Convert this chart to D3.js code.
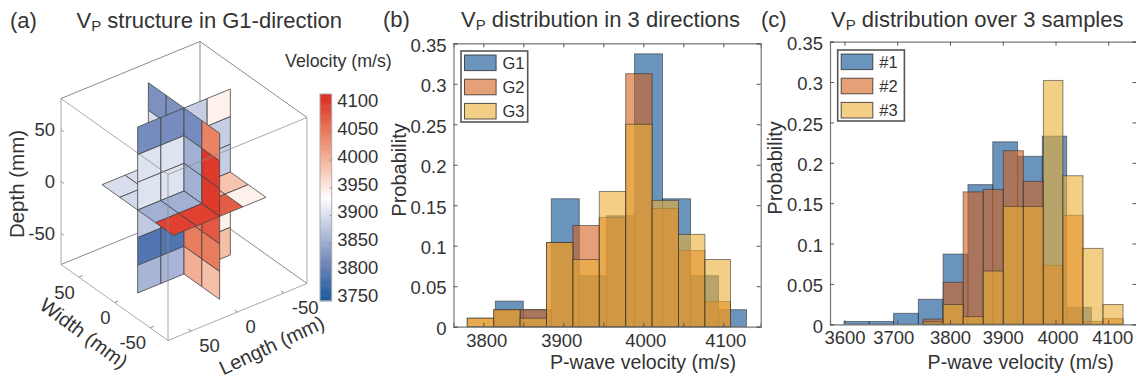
<!DOCTYPE html>
<html>

<head>
  <title>VP structure and distribution</title>
  <script src="https://cdn.jsdelivr.net/npm/d3@7/dist/d3.min.js"></script>
  <style>
    html, body { margin: 0; padding: 0; background: #fff; }
    svg text { font-family: "Liberation Sans", Arial, sans-serif; fill: #333; }
    svg { display: block; }
  </style>
</head>

<body>
  <svg id="chart" width="1136" height="379"></svg>

  <script>
    // panel (a): cell values of the three slices, m/s
    // rows run from top depth to bottom, columns from length +50 to -50
    var sliceWidth0 = [
      [3820, 3820, 3885, 3945],
      [3905, 3905, 3885, 3885],
      [3905, 3905, 3885, 3885],
      [3880, 3880, 3900, 3900],
      [3790, 3790, 3945, 3945],
      [3860, 3860, 3990, 3990]
    ];
    // rows run from top depth to bottom, columns from width +50 to -50
    var sliceLength0 = [
      [3825, 3825, 3820, 4045],
      [3900, 3900, 3855, 4105],
      [3900, 3900, 3855, 4105],
      [3900, 3900, 4060, 4080],
      [3900, 3900, 4050, 4050],
      [3900, 3900, 4005, 3990]
    ];
    // rows run from width +50 to -50, columns from length +50 to -50
    var sliceDepth0 = [
      [3900, 3900, 3900, 3900],
      [3895, 3895, 3895, 3895],
      [3855, 3855, 3990, 3985],
      [4100, 4100, 4075, 3945]
    ];
    var gridEdges = [50, 25, 0, -25, -50];
    var depthEdges = [80, 53.33, 26.67, 0, -26.67, -53.33, -80];
    var spaceTicks = [50, 0, -50];
    var colorbarTicks = [4100, 4050, 4000, 3950, 3900, 3850, 3800, 3750];

    // panel (b)
    var g1Edges = [3815, 3850, 3885, 3920, 3954, 3989, 4024, 4059, 4094, 4129];
    var g1Probs = [0.0316, 0.021, 0.158, 0.063, 0.137, 0.337, 0.158, 0.063, 0.021];
    var g2Edges = [3780, 3813, 3846, 3879, 3912, 3945, 3978, 4011, 4044, 4077, 4109];
    var g2Probs = [0.0105, 0.021, 0.021, 0.104, 0.125, 0.135, 0.3125, 0.146, 0.094, 0.031];
    var g3Probs = [0.0105, 0.021, 0.0105, 0.104, 0.083, 0.167, 0.25, 0.156, 0.114, 0.083];

    // panel (c)
    var s1Edges = [3599, 3647, 3693, 3740, 3787, 3834, 3881, 3928, 3975, 4021, 4068];
    var s1Probs = [0.0035, 0.0035, 0.0136, 0.031, 0.087, 0.173, 0.226, 0.208, 0.233, 0.021];
    var s2Edges = [3749, 3787, 3825, 3863, 3901, 3939, 3977, 4014, 4052, 4090, 4128];
    var s2Probs = [0.0065, 0.052, 0.164, 0.167, 0.215, 0.177, 0.073, 0.135, 0.0035, 0.007];
    var s3Probs = [0.003, 0.0245, 0.0095, 0.066, 0.146, 0.146, 0.302, 0.184, 0.094, 0.0245];

    var probTicks = [0, 0.05, 0.1, 0.15, 0.2, 0.25, 0.3, 0.35];
    var bTicks = [3800, 3850, 3900, 3950, 4000, 4050, 4100];
    var bLabels = [3800, 3900, 4000, 4100];
    var cTicks = [3600, 3700, 3800, 3900, 4000, 4100];

    var histColors = ['#074d8e', '#d4611e', '#ebaf34'];
    var svg = d3.select('#chart');
    var textColor = '#333';
    var tickFont = 18.5;

    function title(x, y, rest) {
      var t = svg.append('text').attr('x', x).attr('y', y).attr('font-size', 22);
      t.append('tspan').text('V');
      t.append('tspan').attr('dy', 3).attr('font-size', 15).text('P');
      t.append('tspan').attr('dy', -3).text(rest);
    }

    svg.append('text').attr('x', 10).attr('y', 28).attr('font-size', 22).text('(a)');
    svg.append('text').attr('x', 383).attr('y', 26.5).attr('font-size', 22).text('(b)');
    svg.append('text').attr('x', 761).attr('y', 26.5).attr('font-size', 22).text('(c)');
    title(76.5, 28, ' structure in G1-direction');
    title(461, 26.5, ' distribution in 3 directions');
    title(831, 26.5, ' distribution over 3 samples');

    // ---- panel (a) ----
    var lenX = d3.scaleLinear().domain([-75, 75]).range([69.5, -69.5]);
    var lenY = d3.scaleLinear().domain([-75, 75]).range([-28.5, 28.5]);
    var widX = d3.scaleLinear().domain([-75, 75]).range([53.5, -53.5]);
    var widY = d3.scaleLinear().domain([-75, 75]).range([38, -38]);
    var depY = d3.scaleLinear().domain([-80, 80]).range([83, -83]);

    function project(l, w, d) {
      return [184 + lenX(l) + widX(w), 191 + lenY(l) + widY(w) + depY(d)];
    }

    var color = d3.scaleLinear()
      .domain([3746, 3810, 3870, 3932, 3990, 4050, 4118])
      .range(['#17599f', '#6a82b8', '#b4bfdc', '#ffffff', '#f5bfa8', '#e87d5e', '#dc2a20']);

    // every cell as four corners
    var cells = [];
    sliceWidth0.forEach((row, r) => row.forEach((v, c) => {
      var l0 = gridEdges[c], l1 = gridEdges[c + 1], d0 = depthEdges[r], d1 = depthEdges[r + 1];
      cells.push({ v: v, near: [l0 + l1 > 0, true, d0 + d1 > 0],
        pts: [[l0, 0, d0], [l1, 0, d0], [l1, 0, d1], [l0, 0, d1]] });
    }));
    sliceLength0.forEach((row, r) => row.forEach((v, c) => {
      var w0 = gridEdges[c], w1 = gridEdges[c + 1], d0 = depthEdges[r], d1 = depthEdges[r + 1];
      cells.push({ v: v, near: [true, w0 + w1 < 0, d0 + d1 > 0],
        pts: [[0, w0, d0], [0, w1, d0], [0, w1, d1], [0, w0, d1]] });
    }));
    sliceDepth0.forEach((row, r) => row.forEach((v, c) => {
      var l0 = gridEdges[c], l1 = gridEdges[c + 1], w0 = gridEdges[r], w1 = gridEdges[r + 1];
      cells.push({ v: v, near: [l0 + l1 > 0, w0 + w1 < 0, true],
        pts: [[l0, w0, 0], [l1, w0, 0], [l1, w1, 0], [l0, w1, 0]] });
    }));

    // viewer sits at +length, -width, +depth: paint the octants far side first
    cells.sort((a, b) => d3.ascending(
      a.near[0] * 4 + a.near[1] * 2 + a.near[2],
      b.near[0] * 4 + b.near[1] * 2 + b.near[2]));

    var line3 = d3.line().x(p => project(p[0], p[1], p[2])[0]).y(p => project(p[0], p[1], p[2])[1]);
    var boxColor = '#8c8c8c';

    var backEdges = [
      [[75, 75, -80], [-75, 75, -80]], [[-75, 75, -80], [-75, -75, -80]],
      [[-75, 75, -80], [-75, 75, 80]], [[75, 75, 80], [-75, 75, 80]], [[-75, 75, 80], [-75, -75, 80]]
    ];
    var frontEdges = [
      [[75, 75, 80], [75, -75, 80]], [[75, -75, 80], [-75, -75, 80]],
      [[75, -75, 80], [75, -75, -80]], [[75, 75, -80], [75, -75, -80]], [[75, -75, -80], [-75, -75, -80]],
      [[75, 75, -80], [75, 75, 80]], [[-75, -75, -80], [-75, -75, 80]]
    ];

    svg.append('g').selectAll('path').data(backEdges).join('path')
      .attr('d', line3).attr('stroke', boxColor).attr('fill', 'none').attr('stroke-width', 1);

    svg.append('g').selectAll('path').data(cells).join('path')
      .attr('d', d => line3(d.pts) + 'Z')
      .attr('fill', d => color(d.v))
      .attr('stroke', '#444')
      .attr('stroke-width', 0.8)
      .attr('stroke-linejoin', 'round');

    svg.append('g').selectAll('path').data(frontEdges).join('path')
      .attr('d', line3).attr('stroke', boxColor).attr('fill', 'none').attr('stroke-width', 1)
      .attr('stroke-opacity', 0.75);

    // space ticks and their labels
    var ticks3 = svg.append('g');
    spaceTicks.forEach(t => {
      var a = project(75, 75, t);
      ticks3.append('path').attr('d', line3([[75, 75, t], [75, 71, t]])).attr('stroke', boxColor);
      ticks3.append('text').attr('x', a[0] - 6).attr('y', a[1]).attr('dy', '0.36em')
        .attr('text-anchor', 'end').attr('font-size', tickFont).text(t);

      var p = project(75, t, -80);
      ticks3.append('path').attr('d', line3([[75, t, -80], [71, t, -80]])).attr('stroke', boxColor);
      ticks3.append('text').attr('x', p[0] - 4).attr('y', p[1] + 15).attr('dy', '0.36em')
        .attr('text-anchor', 'end').attr('font-size', tickFont).text(t);

      var q = project(t, -75, -80);
      ticks3.append('path').attr('d', line3([[t, -75, -80], [t, -71, -80]])).attr('stroke', boxColor);
      ticks3.append('text').attr('x', q[0] + 8).attr('y', q[1] + 14.5).attr('dy', '0.36em')
        .attr('text-anchor', 'start').attr('font-size', tickFont).text(t);
    });

    function rotatedLabel(x, y, angle, size, txt) {
      svg.append('text')
        .attr('transform', 'translate(' + x + ',' + y + ') rotate(' + angle + ')')
        .attr('text-anchor', 'middle').attr('dy', '0.36em')
        .attr('font-size', size).text(txt);
    }
    rotatedLabel(17, 184, -90, 20.5, 'Depth (mm)');
    rotatedLabel(84, 333, 36.5, 20, 'Width (mm)');
    rotatedLabel(271.5, 345, -25, 20, 'Length (mm)');

    // colorbar
    var barY = d3.scaleLinear().domain([3746, 4118]).range([300.7, 94]);
    var barSteps = d3.range(3746, 4118, 2);
    svg.append('g').selectAll('rect').data(barSteps).join('rect')
      .attr('x', 320).attr('width', 11.7)
      .attr('y', d => barY(d + 2)).attr('height', barY(0) - barY(2) + 0.6)
      .attr('fill', d => color(d + 1));
    svg.append('rect').attr('x', 320).attr('y', 94).attr('width', 11.7).attr('height', 206.7)
      .attr('fill', 'none').attr('stroke', '#aaa').attr('stroke-width', 1);
    var barAxis = svg.append('g').attr('transform', 'translate(331.7,0)')
      .call(d3.axisRight(barY).tickValues(colorbarTicks).tickSize(-2).tickPadding(5.5).tickFormat(d3.format('d')));
    barAxis.select('.domain').remove();
    barAxis.selectAll('line').attr('stroke', '#888');
    barAxis.selectAll('text').attr('font-size', tickFont).attr('dy', '0.15em').attr('fill', textColor);
    svg.append('text').attr('x', 285).attr('y', 67).attr('font-size', 17.8).text('Velocity (m/s)');

    // ---- histograms ----
    function histogram(cfg) {
      var x = d3.scaleLinear().domain(cfg.xDomain).range([cfg.left, cfg.right]);
      var y = d3.scaleLinear().domain([0, 0.35]).range([cfg.bottom, cfg.top]);
      var g = svg.append('g');

      cfg.series.forEach((s, i) => {
        g.append('g').selectAll('rect').data(s.probs).join('rect')
          .attr('x', (d, j) => x(s.edges[j]))
          .attr('width', (d, j) => x(s.edges[j + 1]) - x(s.edges[j]))
          .attr('y', d => y(d))
          .attr('height', d => y(0) - y(d))
          .attr('fill', histColors[i])
          .attr('fill-opacity', 0.6)
          .attr('stroke', '#2a2a2a')
          .attr('stroke-opacity', 0.55)
          .attr('stroke-width', 1);
      });

      // the labels were placed by hand in the figure, so they sit a little off their ticks
      var xb = g.append('g').attr('transform', 'translate(0,' + cfg.bottom + ')')
        .call(d3.axisBottom(x).tickValues(cfg.xTicks).tickSize(-4).tickPadding(7)
          .tickFormat(d => cfg.xLabels.includes(d) ? d : ''));
      xb.selectAll('text').attr('font-size', tickFont).attr('fill', textColor)
        .attr('dx', d => cfg.xShift[d] || 0);
      var xt = g.append('g').attr('transform', 'translate(0,' + cfg.top + ')')
        .call(d3.axisTop(x).tickValues(cfg.xTicks).tickSize(-4).tickFormat(''));
      var yl = g.append('g').attr('transform', 'translate(' + cfg.left + ',0)')
        .call(d3.axisLeft(y).tickValues(probTicks).tickSize(-4).tickPadding(7)
          .tickFormat(d => d === 0 ? '0' : String(d)));
      yl.selectAll('text').attr('font-size', tickFont).attr('fill', textColor)
        .attr('dy', '0.42em');
      var yr = g.append('g').attr('transform', 'translate(' + cfg.right + ',0)')
        .call(d3.axisRight(y).tickValues(probTicks).tickSize(-4).tickFormat(''));
      [xb, xt, yl, yr].forEach(a => {
        a.select('.domain').attr('stroke', '#777').attr('stroke-width', 1.2);
        a.selectAll('line').attr('stroke', '#555');
      });

      rotatedLabel(cfg.left - 55, (cfg.top + cfg.bottom) / 2 - 15, -90, 20, 'Probability');
      svg.append('text').attr('x', cfg.labelX).attr('y', 369).attr('text-anchor', 'middle')
        .attr('font-size', 19.6).text('P-wave velocity (m/s)');

      // legend
      var lg = svg.append('g').attr('transform', 'translate(' + cfg.legend[0] + ',' + cfg.legend[1] + ')');
      lg.append('rect').attr('width', 66.7).attr('height', 71).attr('fill', '#fff')
        .attr('stroke', '#555').attr('stroke-width', 1.6);
      cfg.names.forEach((n, i) => {
        lg.append('rect').attr('x', 3.5).attr('y', 4 + i * 24.2).attr('width', 31.6).attr('height', 15.6)
          .attr('fill', histColors[i]).attr('fill-opacity', 0.6)
          .attr('stroke', '#2a2a2a').attr('stroke-opacity', 0.8).attr('stroke-width', 1);
        lg.append('text').attr('x', 41.5).attr('y', 12 + i * 24.2).attr('dy', '0.36em')
          .attr('font-size', 16.5).text(n);
      });
    }

    histogram({
      left: 453.5, right: 760.7, top: 43.3, bottom: 326.7,
      xDomain: [3762.75, 4146.75],
      xTicks: bTicks, xLabels: bLabels, xShift: { 3800: 3, 3900: -2, 4000: 2, 4100: 2 },
      labelX: 643, legend: [461, 51], names: ['G1', 'G2', 'G3'],
      series: [
        { edges: g1Edges, probs: g1Probs },
        { edges: g2Edges, probs: g2Probs },
        { edges: g2Edges, probs: g3Probs }
      ]
    });

    histogram({
      left: 830, right: 1136.5, top: 41.7, bottom: 324.3,
      xDomain: [3572.5, 4153.5],
      xTicks: cTicks, xLabels: cTicks, xShift: { 3700: -4, 4000: 2, 4100: 4 },
      labelX: 1020.7, legend: [837.7, 50], names: ['#1', '#2', '#3'],
      series: [
        { edges: s1Edges, probs: s1Probs },
        { edges: s2Edges, probs: s2Probs },
        { edges: s2Edges, probs: s3Probs }
      ]
    });
  </script>
</body>

</html>
